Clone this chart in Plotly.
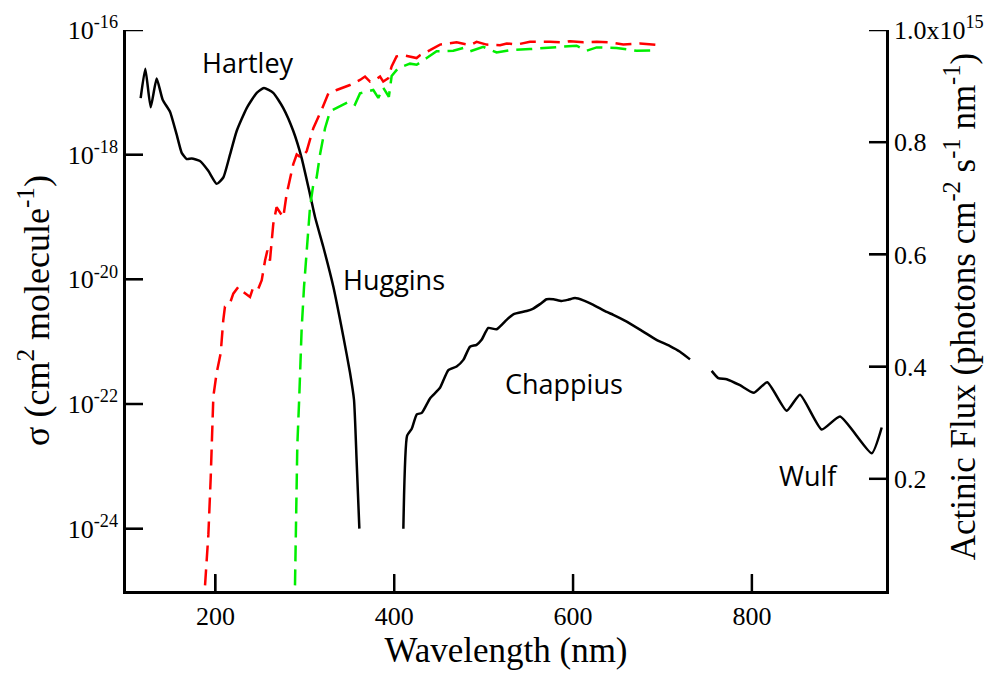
import plotly.graph_objects as go

# ---- O3 absorption cross section (cm^2 molecule^-1), black solid line ----
sigma_wl = [116.4, 121.6, 127.6, 134.3, 141.0, 149.2, 156.7, 162.3, 167.9, 173.5,
            182.7, 192.0, 201.4, 208.8, 216.3, 223.8, 235.0, 246.2, 254.3, 264.7,
            275.9, 287.1, 296.4, 305.8, 311.4, 320.7, 331.9, 343.1, 350.5, 355.0,
            358.0, 361.0, None,
            410.2, 414.4, 419.6, 425.2, 430.8, 440.0, 451.2, 460.5, 469.8, 477.3,
            484.7, 492.1, 497.7, 505.2, 514.5, 525.7, 533.2, 548.1, 555.5, 563.0,
            570.4, 577.9, 587.2, 594.6, 602.2, 611.5, 622.7, 637.6, 645.0, 660.0,
            678.4, 693.3, 708.4, 719.6, 730.8, None,
            755.0, 762.4, 771.8, 786.7, 802.3, 817.2, 838.9, 853.8, 878.1, 898.6,
            934.0, 945.2]
sigma_val = [8.1e-18, 2.4e-17, 5.75e-18, 1.66e-17, 7.6e-18, 4.9e-18, 2.09e-18, 1.07e-18, 8.5e-19, 8.7e-19,
             7.9e-19, 5.5e-19, 3.4e-19, 4.3e-19, 1.0e-18, 2.4e-18, 5.6e-18, 9.8e-18, 1.17e-17, 9.8e-18,
             5.6e-18, 2.4e-18, 8.9e-19, 2.3e-19, 1.0e-19, 3.3e-20, 7.6e-21, 1.2e-21, 3.2e-22, 1.17e-22,
             1.17e-23, 1.0e-24, None,
             1.0e-24, 3.1e-23, 4.0e-23, 6.8e-23, 7.2e-23, 1.23e-22, 1.82e-22, 3.5e-22, 4.0e-22, 5.1e-22,
             8.3e-22, 8.9e-22, 1.07e-21, 1.66e-21, 1.58e-21, 2.24e-21, 2.75e-21, 3.1e-21, 3.4e-21, 4.0e-21,
             4.8e-21, 4.8e-21, 4.5e-21, 4.7e-21, 5.0e-21, 4.6e-21, 3.9e-21, 3.0e-21, 2.7e-21, 2.1e-21,
             1.45e-21, 1.07e-21, 8.5e-22, 6.9e-22, 5.2e-22, None,
             3.4e-22, 2.6e-22, 2.5e-22, 2.0e-22, 1.51e-22, 2.24e-22, 7.8e-23, 1.41e-22, 3.9e-23, 6.3e-23,
             1.62e-23, 4.2e-23]

# ---- Actinic flux (units of 1e15 photons cm^-2 s^-1 nm^-1) ----
red_wl = [188.4, 192.1, 194.7, 196.5, 197.7, 201.4, 205.9, 208.8, 210.7, 216.3,
          220.0, 225.6, 231.2, 238.7, 242.4, 248.0, 251.8, 255.5, 258.1, 261.0,
          264.7, 268.4, 273.0, 275.9, 279.6, 287.1, 290.9, 296.4, 302.1, 309.5,
          318.9, 326.3, 335.6, 350.5, 361.7, 367.3, 372.9, 378.5, 384.1, 387.7,
          393.3, 397.1, 402.6, 410.0, 425.0, 428.8, 440.0, 451.2, 469.8, 484.7,
          492.1, 503.3, 518.3, 525.8, 536.9, 551.8, 574.2, 589.1, 596.6, 611.5,
          626.4, 641.3, 656.2, 674.9, 699.1]
red_flux = [0.01, 0.10, 0.20, 0.318, 0.347, 0.389, 0.424, 0.483, 0.507, 0.513,
            0.530, 0.542, 0.533, 0.524, 0.542, 0.539, 0.554, 0.589, 0.607, 0.589,
            0.654, 0.684, 0.672, 0.666, 0.707, 0.761, 0.778, 0.772, 0.784, 0.825,
            0.858, 0.887, 0.893, 0.902, 0.911, 0.917, 0.908, 0.911, 0.917, 0.908,
            0.914, 0.935, 0.953, 0.955, 0.950, 0.955, 0.964, 0.974, 0.978, 0.973,
            0.979, 0.974, 0.973, 0.976, 0.974, 0.979, 0.979, 0.978, 0.980, 0.978,
            0.979, 0.978, 0.974, 0.976, 0.973]

green_wl = [289.0, 290.1, 291.6, 293.8, 296.4, 299.1, 302.1, 305.8, 309.5, 313.2,
            317.0, 322.6, 328.2, 339.3, 350.5, 356.1, 361.7, 376.6, 382.2, 387.7,
            394.0, 397.1, 404.4, 417.6, 425.1, 436.3, 447.4, 466.1, 477.3, 484.7,
            499.6, 514.5, 529.5, 551.8, 574.2, 589.1, 604.0, 615.2, 626.4, 648.7,
            671.1, 693.4]
green_flux = [0.01, 0.141, 0.259, 0.347, 0.465, 0.542, 0.613, 0.684, 0.725, 0.737,
              0.778, 0.825, 0.855, 0.864, 0.873, 0.867, 0.887, 0.893, 0.879, 0.897,
              0.881, 0.918, 0.932, 0.940, 0.938, 0.950, 0.962, 0.963, 0.968, 0.962,
              0.970, 0.960, 0.964, 0.966, 0.969, 0.970, 0.972, 0.963, 0.969, 0.968,
              0.963, 0.964]

# ---- Axis ticks ----
x_ticks = [200, 400, 600, 800]
sigma_tickvals = [1e-16, 1e-18, 1e-20, 1e-22, 1e-24]
sigma_ticktext = ["10<sup>-16</sup>", "10<sup>-18</sup>", "10<sup>-20</sup>",
                  "10<sup>-22</sup>", "10<sup>-24</sup>"]
flux_tickvals = [0.2, 0.4, 0.6, 0.8, 1.0]
flux_ticktext = ["0.2", "0.4", "0.6", "0.8", "1.0x10<sup>15</sup>"]

# ---- Band labels (wavelength, log10 sigma) ----
band_names = ["Hartley", "Huggins", "Chappius", "Wulf"]
band_x = [237, 400, 590, 863]
band_logy = [-16.52, -20.0, -21.67, -23.15]

X_RANGE = [100, 950]
FLUX_RANGE = [0, 1.0]
SERIF = "Liberation Serif, Times New Roman, serif"
TICK_PX = 17
PLOT_W, PLOT_H = 760, 565
tick_dx = TICK_PX / PLOT_W * (X_RANGE[1] - X_RANGE[0])          # in nm
tick_dy = TICK_PX / PLOT_H * (FLUX_RANGE[1] - FLUX_RANGE[0])    # in flux units

fig = go.Figure()
fig.add_trace(go.Scatter(x=sigma_wl, y=sigma_val, mode="lines",
                         line=dict(color="black", width=2.5, shape="spline", smoothing=0.5),
                         yaxis="y", connectgaps=False, showlegend=False, hoverinfo="skip"))
fig.add_trace(go.Scatter(x=red_wl, y=red_flux, mode="lines",
                         line=dict(color="#ff0000", width=2.5, dash="16px,8px"),
                         yaxis="y2", showlegend=False, hoverinfo="skip"))
fig.add_trace(go.Scatter(x=green_wl, y=green_flux, mode="lines",
                         line=dict(color="#00ee00", width=2.5, dash="16px,8px"),
                         yaxis="y2", showlegend=False, hoverinfo="skip"))

# inward tick marks, drawn through the axes' own scales
tx, ty = [], []
for tv in x_ticks:
    tx += [tv, tv, None]
    ty += [FLUX_RANGE[0], FLUX_RANGE[0] + tick_dy, None]
fig.add_trace(go.Scatter(x=tx, y=ty, mode="lines", yaxis="y2", line=dict(color="black", width=2.5),
                         showlegend=False, hoverinfo="skip"))
lx, ly = [], []
for tv in sigma_tickvals:
    lx += [X_RANGE[0], X_RANGE[0] + tick_dx, None]
    ly += [tv, tv, None]
fig.add_trace(go.Scatter(x=lx, y=ly, mode="lines", yaxis="y", line=dict(color="black", width=2.5),
                         showlegend=False, hoverinfo="skip"))
rx, ry = [], []
for tv in flux_tickvals:
    rx += [X_RANGE[1] - tick_dx, X_RANGE[1], None]
    ry += [tv, tv, None]
fig.add_trace(go.Scatter(x=rx, y=ry, mode="lines", yaxis="y2", line=dict(color="black", width=2.5),
                         showlegend=False, hoverinfo="skip"))

axis_common = dict(showline=True, linecolor="black", linewidth=2.5,
                   ticks="inside", ticklen=TICK_PX, tickwidth=2, tickcolor="black",
                   showgrid=False, zeroline=False,
                   tickfont=dict(family=SERIF, size=26, color="black"))

fig.update_layout(
    width=1002, height=673,
    margin=dict(l=126, r=116, t=28, b=80),
    plot_bgcolor="white", paper_bgcolor="white",
    xaxis=dict(range=X_RANGE, tickvals=x_ticks, **axis_common,
               title=dict(text="Wavelength (nm)", font=dict(family=SERIF, size=35, color="black"),
                          standoff=6)),
    yaxis=dict(type="log", range=[-25, -16], tickvals=sigma_tickvals, ticktext=sigma_ticktext,
               **axis_common,
               title=dict(text="σ (cm<sup>2</sup> molecule<sup>-1</sup>)",
                          font=dict(family=SERIF, size=36, color="black"), standoff=8)),
    yaxis2=dict(range=FLUX_RANGE, overlaying="y", side="right",
                tickvals=flux_tickvals, ticktext=flux_ticktext, **axis_common),
)

for name, bx, by in zip(band_names, band_x, band_logy):
    fig.add_annotation(x=bx, y=by, xref="x", yref="y", text=name, showarrow=False,
                       font=dict(family="Open Sans, sans-serif", size=27, color="black"))

fig.add_annotation(x=1.13, y=0.508, xref="paper", yref="paper", textangle=-90,
                   text="Actinic Flux (photons cm<sup>-2</sup> s<sup>-1</sup> nm<sup>-1</sup>)",
                   showarrow=False, font=dict(family=SERIF, size=35, color="black"))

fig.write_html("out.html")
